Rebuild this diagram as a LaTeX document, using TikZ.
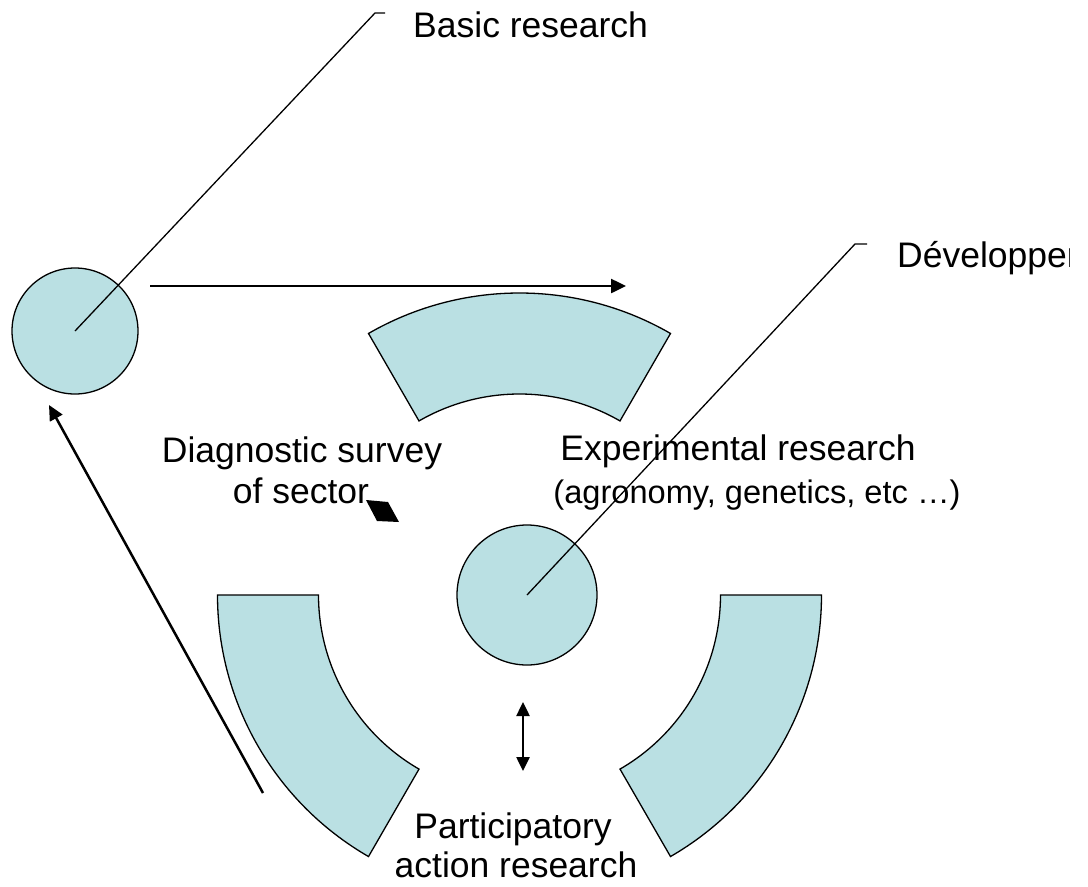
\documentclass[tikz,border=0pt]{standalone}
\usepackage{fontspec}
\setmainfont{Liberation Sans}
\usetikzlibrary{arrows.meta,calc}
\definecolor{segfill}{RGB}{186,224,227}
\begin{document}
\begin{tikzpicture}[x=1pt,y=1pt,
  sector/.style={fill=segfill,draw=black,line width=1.3pt},
  circ/.style={circle,fill=segfill,draw=black,line width=1.3pt,inner sep=0pt},
  calline/.style={draw=black,line width=1.3pt},
  arr/.style={line width=2.5pt,-{Triangle[length=15pt,width=14pt]}},
  darr/.style={line width=2.5pt,{Triangle[length=14pt,width=13pt]}-{Triangle[length=14pt,width=13pt]}},
  lbl/.style={font=\fontsize{35.5}{41}\selectfont,inner sep=0pt},
  lbls/.style={font=\fontsize{32.6}{38}\selectfont,inner sep=0pt}]
\useasboundingbox (0,0) rectangle (1088,-887);
\fill[white] (0,0) rectangle (1088,-887);
\coordinate (C) at (519.5,-595);
\def\ri{201}
\def\ro{302}
\foreach \a/\b in {60/120,180/240,300/360}{
  \draw[sector] ($(C)+(\a:\ri)$) arc[start angle=\a,end angle=\b,radius=\ri]
     -- ($(C)+(\b:\ro)$) arc[start angle=\b,end angle=\a,radius=\ro] -- cycle;
}
\node[circ,minimum size=126pt] (basic) at (75,-331) {};
\node[circ,minimum size=140pt] (core) at (527,-595) {};
% callouts
\coordinate (b1) at (375,-13);
\coordinate (b2) at (385,-13);
\draw[calline] (basic.center) -- (b1) -- (b2);
\node[lbl,anchor=base west] (basictxt) at (413,-37) {Basic research};
\coordinate (d1) at (855,-244);
\coordinate (d2) at (867,-244);
\draw[calline] (core.center) -- (d1) -- (d2);
\begin{scope}
  \clip (0,0) rectangle (1069.5,-887);
  \node[lbl,anchor=base west] (devtxt) at (897,-267) {Développer};
\end{scope}
% labels
\node[lbl,anchor=base] (diag1) at (302,-462) {Diagnostic survey};
\node[lbl,anchor=base] (diag2) at (301,-503) {of sector};
\node[lbl,anchor=base] (exp1) at (738,-460) {Experimental research};
\node[lbls,anchor=base] (exp2) at (757,-503) {(agronomy, genetics, etc …)};
\node[lbl,anchor=base] (part1) at (513,-838) {Participatory};
\node[lbl,anchor=base] (part2) at (516,-877) {action research};
% arrows
\coordinate (h1) at (150,-286);
\coordinate (h2) at (626,-286);
\draw[arr] (h1) -- (h2);
\coordinate (l1) at (263,-793);
\coordinate (l2) at (49,-405);
\draw[arr] (l1) -- (l2);
\coordinate (v1) at (523,-702);
\coordinate (v2) at (523,-771);
\draw[darr] (v1) -- (v2);
\fill[black] (366,-500) -- (388,-502) -- (399,-522) -- (377,-521) -- cycle;
\end{tikzpicture}
\end{document}
